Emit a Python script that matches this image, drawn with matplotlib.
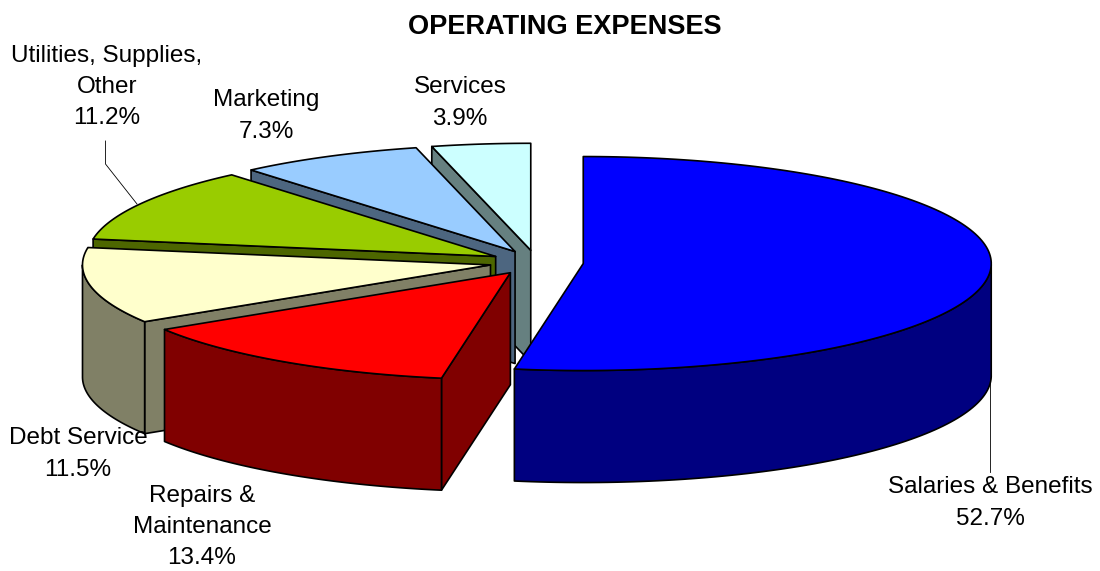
import numpy as np
import matplotlib
matplotlib.use("Agg")
import matplotlib.pyplot as plt

categories = ["Salaries & Benefits", "Repairs &\nMaintenance", "Debt Service",
              "Utilities, Supplies,\nOther", "Marketing", "Services"]
values = [52.7, 13.4, 11.5, 11.2, 7.3, 3.9]
top_colors = ["#0000FF", "#FF0000", "#FFFFCC", "#99CC00", "#99CCFF", "#CCFFFF"]
side_colors = ["#000080", "#800000", "#808066", "#4D6600", "#4D6680", "#668080"]
label_pos = [(990, 503), (202, 527), (78, 454), (107, 87), (266, 116), (460, 103)]

W, H = 1100, 571
C0 = (536.5, 262.5)
RX, RY, DEPTH, EXPLODE = 408.0, 107.0, 112.0, 0.115

plt.rcParams["font.family"] = ["Liberation Sans", "DejaVu Sans"]
fig = plt.figure(figsize=(W / 100, H / 100), dpi=100, facecolor="white")
ax = fig.add_axes([0, 0, 1, 1])
ax.set_xlim(0, W)
ax.set_ylim(H, 0)
ax.axis("off")

total = sum(values)
edges = np.concatenate([[0], np.cumsum(values)]) / total * 2 * np.pi


def pt(cx, cy, t):
    return cx + RX * np.sin(t), cy - RY * np.cos(t)


def face(xs, ys, color, z):
    ax.fill(xs, ys, facecolor=color, edgecolor="black", linewidth=1.2, zorder=z, joinstyle="round")


# far slices first: services back to repairs, then salaries in front
order = [5, 4, 3, 2, 1, 0]
for z, i in enumerate(order):
    a, b = edges[i], edges[i + 1]
    mid = (a + b) / 2
    cx = C0[0] + EXPLODE * RX * np.sin(mid)
    cy = C0[1] - EXPLODE * RY * np.cos(mid)
    t = np.linspace(a, b, 160)
    zb = z * 10
    # only the radial wall that faces the viewer
    if np.sin(a) < -1e-9:
        ex, ey = pt(cx, cy, a)
        face([cx, ex, ex, cx], [cy, ey, ey + DEPTH, cy + DEPTH], side_colors[i], zb)
    if np.sin(b) > 1e-9:
        ex, ey = pt(cx, cy, b)
        face([cx, ex, ex, cx], [cy, ey, ey + DEPTH, cy + DEPTH], side_colors[i], zb)
    # outer rim (front half only is visible)
    vis = t[np.cos(t) <= 0]
    if vis.size:
        x, y = pt(cx, cy, vis)
        face(np.r_[x, x[::-1]], np.r_[y, y[::-1] + DEPTH], side_colors[i], zb + 1)
    # top
    x, y = pt(cx, cy, t)
    face(np.r_[cx, x], np.r_[cy, y], top_colors[i], zb + 2)

# leader lines
ax.plot([105.5, 105.5, 137], [141, 164, 204], color="black", lw=0.6, zorder=90)
ax.plot([990, 990], [378, 472], color="black", lw=0.6, zorder=90)

for name, v, (lx, ly) in zip(categories, values, label_pos):
    ax.text(lx, ly, f"{name}\n{v:.1f}%", ha="center", va="center", fontsize=17.5,
            color="black", linespacing=1.55, zorder=100)
ax.text(565, 27, "OPERATING EXPENSES", ha="center", va="center", fontsize=19.5,
        fontweight="bold", color="black", zorder=100)

fig.savefig("out.png", dpi=100, facecolor="white")
